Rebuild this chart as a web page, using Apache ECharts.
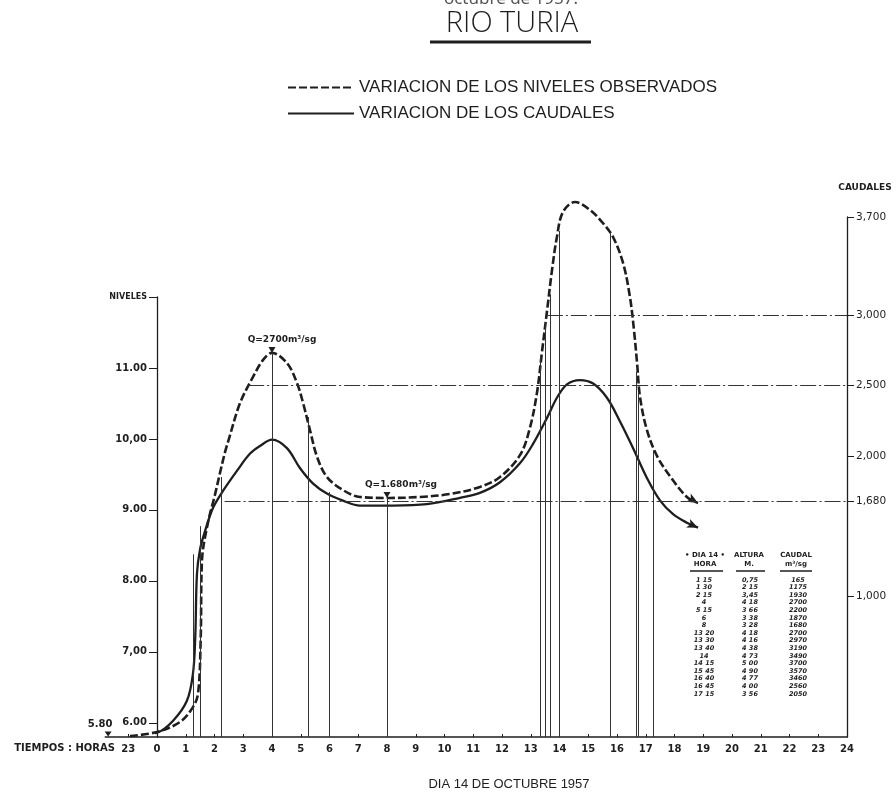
<!DOCTYPE html>
<html><head><meta charset="utf-8">
<script src="https://cdn.jsdelivr.net/npm/echarts@6/dist/echarts.min.js"></script>
<style>html,body{margin:0;padding:0;background:#fff}#c{width:896px;height:792px}</style>
</head><body><div id="c"></div>
<script>
// ---- data ----
const hourTicks = [-1,0,1,2,3,4,5,6,7,8,9,10,11,12,13,14,15,16,17,18,19,20,21,22,23,24];
const nivelTicks = [6,7,8,9,10,11,12];
const nivelLabels = ['6.00','7,00','8.00','9.00','10,00','11.00','NIVELES'];
const caudalTicks = [1000,1680,2000,2500,3000,3700];
const caudalLabels = ['1,000','1,680','2,000','2,500','3,000','3,700'];

const dashHours = [-0.94,0,0.8,1.25,1.43,1.52,1.565,1.77,2.0,2.19,2.37,2.5,2.89,3.34,3.69,4.0,4.52,4.87,5.08,5.32,5.57,5.91,6.47,7.06,8.1,9.15,10.19,11.23,11.93,12.63,12.97,13.22,13.39,13.57,13.74,13.91,14.12,14.54,15.06,15.51,15.86,16.21,16.45,16.59,16.7,16.8,17.04,17.39,17.84,18.43,18.82];
const dashCaudal = [7,36,107,213,313,700,1259,1523,1710,1878,2030,2120,2377,2562,2683,2733,2661,2519,2377,2184,1992,1850,1757,1708,1701,1708,1729,1779,1850,2007,2199,2455,2739,3038,3323,3558,3736,3807,3750,3657,3558,3373,3131,2896,2657,2420,2185,2000,1857,1708,1665];

const solidHours = [-0.94,0,0.56,1.04,1.25,1.33,1.39,1.5,1.67,1.95,2.3,2.78,3.23,3.58,4.0,4.52,4.97,5.43,5.91,6.47,7.06,8.21,9.39,10.54,11.23,11.93,12.63,13.08,13.57,13.91,14.26,14.71,15.17,15.65,16.1,16.56,17.04,17.5,17.95,18.43,18.82];
const solidNivel = [5.82,5.86,6.03,6.31,6.69,7.2,8.1,8.45,8.7,9.03,9.27,9.55,9.79,9.9,9.99,9.87,9.59,9.37,9.23,9.13,9.06,9.06,9.08,9.17,9.24,9.39,9.66,9.93,10.30,10.58,10.77,10.83,10.78,10.58,10.25,9.87,9.45,9.13,8.94,8.82,8.75];

const markHours = [1.25,1.5,2.25,4,5.25,6,8,13.33,13.5,13.67,14,14.25,15.75,16.67,16.75,17.25];
const markTops  = [1300,1500,1850,2733,2277,1743,1722,2700,2950,3150,3600,3770,3590,2600,2450,2040];

const refLevels = [2500,1680,3000];
const refStarts = [3.17,2.35,13.56];

const peakHours = [4,8,14.54];
const peakCaudal = [2733,1701,3807];
const peakLabels = ['Q=2700m³/sg','Q=1.680m³/sg','Q=3.700m³/sg'];

const baseLabel = '5.80';
const baseHour = -1.7;

const tablaHora = ['1 15','1 30','2 15','4','5 15','6','8','13 20','13 30','13 40','14','14 15','15 45','16 40','16 45','17 15'];
const tablaAltura = ['0,75','2 15','3,45','4 18','3 66','3 38','3 28','4 18','4 16','4 38','4 73','5 00','4 90','4 77','4 00','3 56'];
const tablaCaudal = ['165','1175','1930','2700','2200','1870','1680','2700','2970','3190','3490','3700','3570','3460','2560','2050'];

// ---- styles ----
const INK = '#1e1e1e';
const FONT = '"DejaVu Sans", sans-serif';
const peakShift = [10, 14, 20];

const solidData = solidHours.map((h,i)=>[h, solidNivel[i]]);
solidData[solidData.length-1] = {value: solidData[solidData.length-1], symbol:'arrow', symbolSize:[7,11], symbolRotate:-114, itemStyle:{color:INK}};
const dashData = dashHours.map((h,i)=>[h, dashCaudal[i]]);
dashData[dashData.length-1] = {value: dashData[dashData.length-1], symbol:'arrow', symbolSize:[7,11], symbolRotate:-119, itemStyle:{color:INK}};

const vLines = markHours.map((h,i)=>[{coord:[h,0], lineStyle:{color:'#333', width:1, type:'solid'}}, {coord:[h, markTops[i]]}]);
const hLines = refLevels.map((q,i)=>[{coord:[refStarts[i], q], lineStyle:{color:'#333', width:1.2, type:[16,3,2,3]}}, {coord:[24, q]}]);

const lblStyle = {color: INK, fontFamily: FONT, fontWeight: 'bold', fontSize: 10};

const option = {
  animation: false,
  backgroundColor: '#fff',
  legend: {
    orient: 'vertical', left: 282, top: 74, itemWidth: 66, itemHeight: 14, itemGap: 9,
    itemStyle: {opacity: 0},
    data: ['VARIACION DE LOS NIVELES OBSERVADOS','VARIACION DE LOS CAUDALES'],
    textStyle: {fontSize: 17, fontFamily: '"Liberation Sans", sans-serif', color: INK}
  },
  grid: [
    {left: 157, right: 49, top: 297, bottom: 55},
    {left: 105.25, right: 49, top: 217, bottom: 55}
  ],
  xAxis: [
    {type:'value', gridIndex:0, min:0, max:24, show:false},
    {type:'value', gridIndex:1, min:-1.8, max:24,
     axisLine:{onZero:true, lineStyle:{color:INK, width:1.5}},
     axisTick:{customValues: hourTicks, inside:true, length:3, lineStyle:{color:INK}},
     axisLabel:Object.assign({customValues: hourTicks, margin:7, formatter: v => String(v < 0 ? v + 24 : v)}, lblStyle),
     splitLine:{show:false}}
  ],
  yAxis: [
    {type:'value', gridIndex:0, min:5.8, max:12, position:'left',
     axisLine:{show:true, onZero:false, lineStyle:{color:INK, width:1.3}},
     axisTick:{show:true, customValues: nivelTicks, length:8, lineStyle:{color:INK}},
     axisLabel:Object.assign({customValues: nivelTicks, margin:10,
       formatter: v => { const i = nivelTicks.indexOf(v); return i === nivelTicks.length-1 ? '{n|' + nivelLabels[i] + '}' : nivelLabels[i]; },
       rich:{n:{fontSize:8, fontWeight:'bold', fontFamily:FONT, color:INK}}}, lblStyle),
     splitLine:{show:false}},
    {type:'value', gridIndex:1, min:0, max:3700, position:'right',
     axisLine:{show:true, onZero:false, lineStyle:{color:INK, width:1.3}},
     axisTick:{show:true, customValues: caudalTicks, length:7, lineStyle:{color:INK}},
     axisLabel:{customValues: caudalTicks, margin:9, color:INK, fontFamily:FONT, fontSize:10.5,
       formatter: v => caudalLabels[caudalTicks.indexOf(v)]},
     splitLine:{show:false},
     name:'CAUDALES', nameLocation:'end', nameGap:25,
     nameTextStyle:{padding:[0,0,0,36], color:INK, fontFamily:FONT, fontWeight:'bold', fontSize:9}}
  ],
  series: [
    {name:'VARIACION DE LOS NIVELES OBSERVADOS', type:'line', xAxisIndex:1, yAxisIndex:1,
     data: dashData, smooth:0.35, symbol:'none', showSymbol:true, showAllSymbol:true, clip:false,
     lineStyle:{color:INK, width:2.6, type:[8,3]}, itemStyle:{color:INK},
     markLine:{silent:true, symbol:['none','none'], label:{show:false}, data: vLines.concat(hLines)},
     markPoint:{silent:true, symbol:'triangle', symbolSize:[7,6], symbolRotate:180, symbolOffset:[0,-3],
       itemStyle:{color:INK},
       label:{show:true, position:'top', distance:3, formatter:'{b}', color:INK, fontFamily:FONT, fontWeight:'bold', fontSize:9},
       data: peakHours.map((h,i)=>({name: peakLabels[i], coord:[h, peakCaudal[i]], label:{offset:[peakShift[i],0]}}))
         .concat([{name: baseLabel, coord:[baseHour, 0], symbolSize:[7,5], label:{offset:[-8,0], fontSize:10, distance:2}}])}
    },
    {name:'VARIACION DE LOS CAUDALES', type:'line', xAxisIndex:0, yAxisIndex:0,
     data: solidData, smooth:0.35, symbol:'none', showSymbol:true, showAllSymbol:true, clip:false,
     lineStyle:{color:INK, width:2.3}, itemStyle:{color:INK}}
  ],
  graphic: [
    {type:'text', x:511, y:-0.5, style:{text:'octubre de 1957.', font:'17px "Noto Sans"', fill:'#555', textAlign:'center', textVerticalAlign:'middle'}},
    {type:'text', x:512, y:24, style:{text:'RIO TURIA', font:'300 29px "Open Sans"', fill:INK, textAlign:'center', textVerticalAlign:'middle'}},
    {type:'line', shape:{x1:430, y1:42, x2:591, y2:42}, style:{stroke:INK, lineWidth:3}},
    {type:'text', x:115, y:748, style:{text:'TIEMPOS : HORAS', font:'bold 10px "DejaVu Sans"', fill:INK, textAlign:'right', textVerticalAlign:'middle'}},
    {type:'text', x:509, y:784, style:{text:'DIA 14 DE OCTUBRE 1957', font:'13px "Liberation Sans"', fill:INK, textAlign:'center', textVerticalAlign:'middle'}},
    {type:'text', x:705, y:551, style:{text:'• DIA 14 •\nHORA', font:'bold 7px "DejaVu Sans"', lineHeight:9, fill:INK, textAlign:'center', textVerticalAlign:'top'}},
    {type:'text', x:749, y:551, style:{text:'ALTURA\nM.', font:'bold 7px "DejaVu Sans"', lineHeight:9, fill:INK, textAlign:'center', textVerticalAlign:'top'}},
    {type:'text', x:796, y:551, style:{text:'CAUDAL\nm³/sg', font:'bold 7px "DejaVu Sans"', lineHeight:9, fill:INK, textAlign:'center', textVerticalAlign:'top'}},
    {type:'line', shape:{x1:690, y1:571, x2:723, y2:571}, style:{stroke:INK, lineWidth:1.5}},
    {type:'line', shape:{x1:736, y1:571, x2:765, y2:571}, style:{stroke:INK, lineWidth:1.5}},
    {type:'line', shape:{x1:780, y1:571, x2:812, y2:571}, style:{stroke:INK, lineWidth:1.5}},
    {type:'text', x:704, y:576.2, style:{text: tablaHora.join('\n'), font:'italic bold 6.5px "DejaVu Sans"', lineHeight:7.6, fill:INK, textAlign:'center', textVerticalAlign:'top'}},
    {type:'text', x:750, y:576.2, style:{text: tablaAltura.join('\n'), font:'italic bold 6.5px "DejaVu Sans"', lineHeight:7.6, fill:INK, textAlign:'center', textVerticalAlign:'top'}},
    {type:'text', x:798, y:576.2, style:{text: tablaCaudal.join('\n'), font:'italic bold 6.5px "DejaVu Sans"', lineHeight:7.6, fill:INK, textAlign:'center', textVerticalAlign:'top'}}
  ]
};
const chart = echarts.init(document.getElementById('c'));
chart.setOption(option);
</script>
</body></html>
